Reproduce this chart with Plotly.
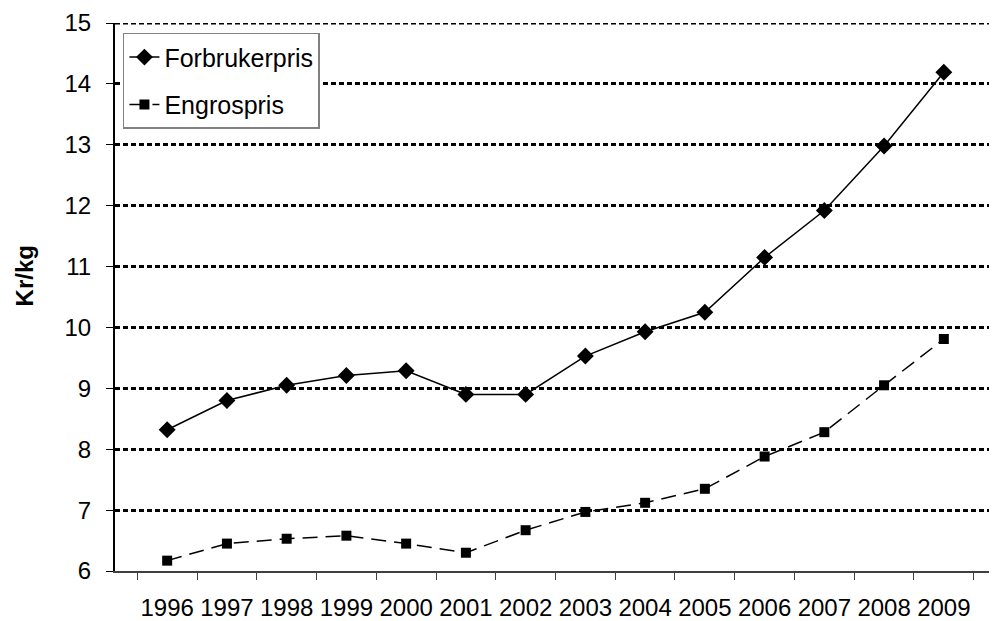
import plotly.graph_objects as go

years = [str(y) for y in range(1996, 2010)]
forbrukerpris = [8.32, 8.80, 9.05, 9.21, 9.29, 8.90, 8.90, 9.53, 9.93, 10.25, 11.15, 11.92, 12.98, 14.19]
engrospris = [6.17, 6.45, 6.53, 6.58, 6.45, 6.30, 6.67, 6.97, 7.12, 7.35, 7.88, 8.28, 9.05, 9.81]

font = "Liberation Sans, Arial, sans-serif"

fig = go.Figure()
fig.add_trace(go.Scatter(
    x=years, y=forbrukerpris, name="Forbrukerpris", mode="lines+markers",
    legendgroup="a",
    line=dict(color="black", width=1.5),
    marker=dict(symbol="diamond", size=13, color="black"),
))
fig.add_trace(go.Scatter(
    x=years, y=engrospris, name="Engrospris", mode="lines+markers",
    legendgroup="b",
    line=dict(color="black", width=1.5, dash="15px,8px"),
    marker=dict(symbol="square", size=10, color="black"),
))

# page has an 8px body margin, so the figure is shrunk by that much
fig.update_layout(
    width=989, height=613,
    margin=dict(l=107, r=1, t=15, b=50),
    paper_bgcolor="white", plot_bgcolor="white",
    font=dict(family=font, size=24, color="black"),
    showlegend=True,
    legend=dict(
        x=0.009, y=0.982, xanchor="left", yanchor="top",
        bordercolor="#808080", borderwidth=1.5, bgcolor="white",
        font=dict(size=25), traceorder="grouped", tracegroupgap=12,
    ),
)
fig.update_xaxes(
    type="category", tickson="boundaries", ticks="outside", ticklen=7,
    tickcolor="#404040", showline=True, linecolor="#404040", linewidth=2,
    showgrid=False, ticklabelstandoff=14, tickfont=dict(size=24),
    tickangle=0, automargin=False,
)
fig.update_yaxes(
    range=[6, 15], dtick=1, ticks="outside", ticklen=7, tickcolor="black",
    showline=True, linecolor="black", linewidth=2,
    showgrid=True, gridcolor="black", gridwidth=3, griddash="5px,3px",
    zeroline=False, tickfont=dict(size=24), ticklabelstandoff=10,
    automargin=False,
)
fig.add_annotation(text="<b>Kr/kg</b>", textangle=-90, xref="paper", yref="paper",
                   x=-0.103, y=0.538, xanchor="center", yanchor="middle",
                   showarrow=False, font=dict(size=24))
fig.add_shape(type="line", xref="paper", yref="y", x0=0, x1=1, y0=15, y1=15,
              line=dict(color="black", width=3, dash="5px,3px"))
fig.add_shape(type="line", xref="paper", yref="paper", x0=1, x1=1, y0=0, y1=1,
              line=dict(color="#606060", width=1.5))

fig.write_html("out.html")
